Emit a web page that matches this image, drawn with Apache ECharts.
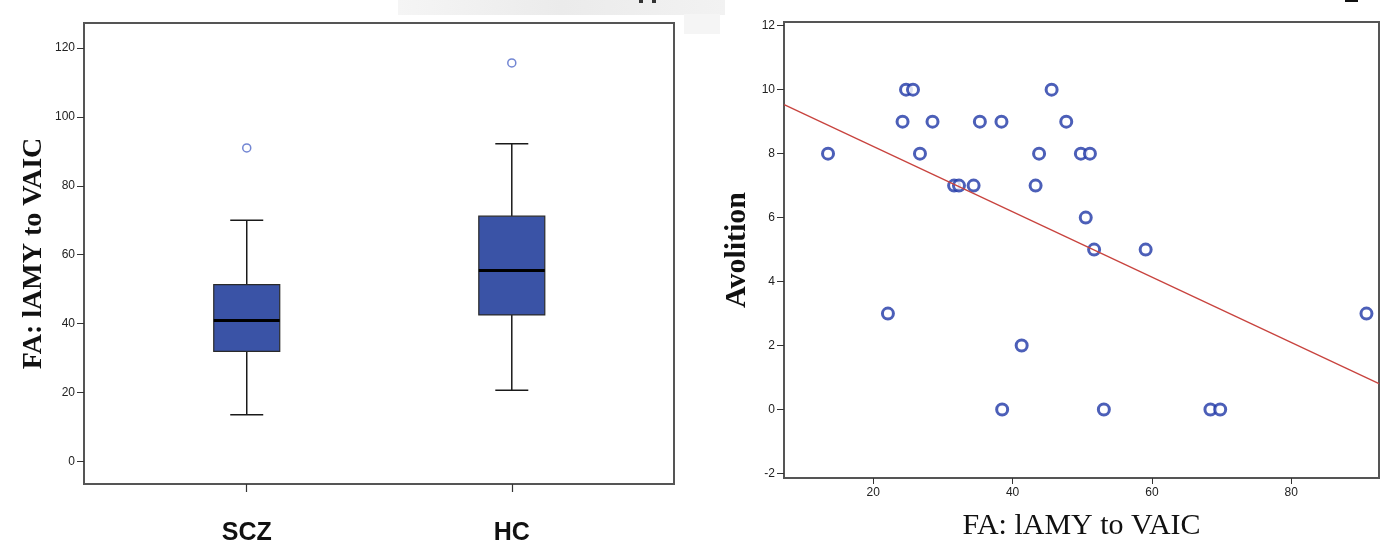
<!DOCTYPE html>
<html>
<head>
<meta charset="utf-8">
<title>FA lAMY to VAIC</title>
<script src="https://cdn.jsdelivr.net/npm/echarts@6/dist/echarts.min.js"></script>
<style>
  html, body { margin: 0; padding: 0; background: #fff; }
  #chart { width: 1386px; height: 546px; }
</style>
</head>
<body>
<div id="chart"></div>
<script>
// left panel: box plot per group
const groups = ['SCZ', 'HC'];
const boxLow = [13.5, 20.6];
const boxQ1 = [31.9, 42.5];
const boxMedian = [40.9, 55.4];
const boxQ3 = [51.3, 71.2];
const boxHigh = [70.0, 92.2];
const outlierGroup = [1, 2];
const outlierValue = [91.0, 115.7];
const leftYTicks = [0, 20, 40, 60, 80, 100, 120];

// right panel: scatter with fit line
const faValues = [13.5, 22.1, 24.2, 24.7, 25.7, 26.7, 28.5, 31.6, 32.3, 34.4, 35.3, 38.4, 38.5, 41.3,
  43.3, 43.8, 45.6, 47.7, 49.8, 51.1, 50.5, 51.7, 53.1, 59.1, 68.4, 69.8, 90.8];
const avolition = [8, 3, 9, 10, 10, 8, 9, 7, 7, 7, 9, 9, 0, 2,
  7, 8, 10, 9, 8, 8, 6, 5, 0, 5, 0, 0, 3];
const fitX = [7.2, 92.6];
const fitY = [9.53, 0.81];
const rightXTicks = [20, 40, 60, 80];
const rightYTicks = [-2, 0, 2, 4, 6, 8, 10, 12];

const tickFont = "'Liberation Sans Narrow', 'Arial Narrow', 'Liberation Sans', sans-serif";
const serif = "'Liberation Serif', 'DejaVu Serif', serif";
const BOX_W = 0.249;   // in x units (1 unit = one group)

const boxData = groups.map((g, i) => [i + 1, boxLow[i], boxQ1[i], boxMedian[i], boxQ3[i], boxHigh[i]]);

function renderBox(params, api) {
  const x = api.value(0);
  const low = api.coord([x, api.value(1)]);
  const q1 = api.coord([x, api.value(2)]);
  const med = api.coord([x, api.value(3)]);
  const q3 = api.coord([x, api.value(4)]);
  const high = api.coord([x, api.value(5)]);
  const w = api.size([BOX_W, 0])[0];
  const cx = low[0];
  const line = { stroke: '#1a1a1a', lineWidth: 1.5 };
  return {
    type: 'group',
    children: [
      { type: 'line', shape: { x1: cx, y1: low[1], x2: cx, y2: q1[1] }, style: line },
      { type: 'line', shape: { x1: cx, y1: q3[1], x2: cx, y2: high[1] }, style: line },
      { type: 'line', shape: { x1: cx - w / 4, y1: low[1], x2: cx + w / 4, y2: low[1] }, style: line },
      { type: 'line', shape: { x1: cx - w / 4, y1: high[1], x2: cx + w / 4, y2: high[1] }, style: line },
      { type: 'rect', shape: { x: cx - w / 2, y: q3[1], width: w, height: q1[1] - q3[1] },
        style: { fill: '#3a53a6', stroke: '#2a2a2a', lineWidth: 1.2 } },
      { type: 'line', shape: { x1: cx - w / 2, y1: med[1], x2: cx + w / 2, y2: med[1] },
        style: { stroke: '#000', lineWidth: 3 } }
    ]
  };
}

const chart = echarts.init(document.getElementById('chart'));
chart.setOption({
  animation: false,
  backgroundColor: '#fff',
  graphic: [
    { type: 'rect', shape: { x: 398, y: 0, width: 327, height: 15 },
      style: { fill: new echarts.graphic.LinearGradient(0, 0, 1, 0, [
        { offset: 0, color: '#f5f5f5' }, { offset: 0.5, color: '#ebebeb' }, { offset: 1, color: '#f2f2f2' }]) }, z: -1 },
    { type: 'rect', shape: { x: 684, y: 14, width: 36, height: 20 }, style: { fill: '#f5f5f5' }, z: -1 },
    { type: 'rect', shape: { x: 639, y: 0, width: 4, height: 3 }, style: { fill: '#333' } },
    { type: 'rect', shape: { x: 652, y: 0, width: 4, height: 3 }, style: { fill: '#333' } },
    { type: 'rect', shape: { x: 1345, y: 0, width: 13, height: 2 }, style: { fill: '#111' } }
  ],
  grid: [
    { left: 84, right: 712, top: 23, bottom: 60, show: true, borderColor: '#555', borderWidth: 2 },
    { left: 784, right: 7, top: 22, bottom: 66.5, show: true, borderColor: '#555', borderWidth: 2 }
  ],
  xAxis: [
    {
      gridIndex: 0, type: 'value', min: 0.386, max: 2.612,
      axisLine: { show: false, onZero: false }, splitLine: { show: false },
      axisTick: { show: true, length: 8, customValues: [1, 2], lineStyle: { color: '#333', width: 1.2 } },
      axisLabel: {
        customValues: [1, 2], margin: 37,
        formatter: v => groups[Math.round(v) - 1] || '',
        fontFamily: "'Liberation Sans', Arial, sans-serif", fontWeight: 'bold', fontSize: 25, color: '#111'
      }
    },
    {
      gridIndex: 1, type: 'value', min: 7.18, max: 92.6,
      axisLine: { show: false, onZero: false }, splitLine: { show: false },
      axisTick: { show: true, length: 6, customValues: rightXTicks, lineStyle: { color: '#333' } },
      axisLabel: { customValues: rightXTicks, margin: 9, fontFamily: tickFont, fontSize: 12, color: '#222' },
      name: 'FA: lAMY to VAIC', nameLocation: 'middle', nameGap: 33,
      nameTextStyle: { fontFamily: serif, fontSize: 30, color: '#111' }
    }
  ],
  yAxis: [
    {
      gridIndex: 0, type: 'value', min: -6.6, max: 127.3,
      axisLine: { show: false, onZero: false }, splitLine: { show: false },
      axisTick: { show: true, length: 7, customValues: leftYTicks, lineStyle: { color: '#333' } },
      axisLabel: { customValues: leftYTicks, margin: 9, fontFamily: tickFont, fontSize: 12, color: '#222' },
      name: 'FA: lAMY to VAIC', nameLocation: 'middle', nameGap: 36,
      nameTextStyle: { fontFamily: serif, fontWeight: 'bold', fontSize: 28, color: '#111' }
    },
    {
      gridIndex: 1, type: 'value', min: -2.14, max: 12.115,
      axisLine: { show: false, onZero: false }, splitLine: { show: false },
      axisTick: { show: true, length: 7, customValues: rightYTicks, lineStyle: { color: '#333' } },
      axisLabel: { customValues: rightYTicks, margin: 9, fontFamily: tickFont, fontSize: 12, color: '#222' },
      name: 'Avolition', nameLocation: 'middle', nameGap: 32,
      nameTextStyle: { fontFamily: serif, fontWeight: 'bold', fontSize: 30, color: '#111' }
    }
  ],
  series: [
    {
      type: 'custom', xAxisIndex: 0, yAxisIndex: 0,
      renderItem: renderBox, data: boxData, encode: { x: 0, y: [1, 2, 3, 4, 5] }
    },
    {
      type: 'scatter', xAxisIndex: 0, yAxisIndex: 0,
      symbol: 'circle', symbolSize: 8,
      itemStyle: { color: '#fff', borderColor: '#4f68c8', borderWidth: 1.5 },
      data: outlierGroup.map((g, i) => [g, outlierValue[i]])
    },
    {
      type: 'line', xAxisIndex: 1, yAxisIndex: 1,
      showSymbol: false, silent: true,
      lineStyle: { color: '#c8433e', width: 1.3 },
      data: fitX.map((x, i) => [x, fitY[i]])
    },
    {
      type: 'scatter', xAxisIndex: 1, yAxisIndex: 1,
      symbol: 'circle', symbolSize: 11,
      itemStyle: { color: '#fff', borderColor: '#1f37a6', borderWidth: 3 },
      data: faValues.map((x, i) => [x, avolition[i]])
    }
  ]
});
</script>
</body>
</html>
